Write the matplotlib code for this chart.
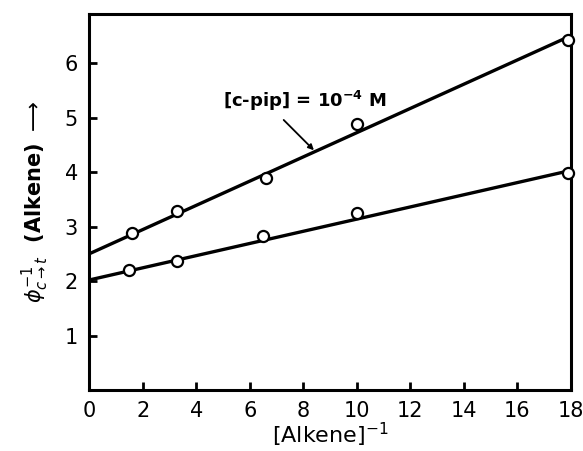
"""
Stern-Volmer type plot: inverse quantum yield vs inverse alkene concentration
"""

from matplotlib import pyplot as plt

# upper series, [c-pip] = 1e-4 M
upper_x = [1.6, 3.3, 6.6, 10.0, 17.9]
upper_y = [2.88, 3.28, 3.90, 4.88, 6.42]
upper_fit_x = [0, 18]
upper_fit_y = [2.50, 6.50]

# lower series
lower_x = [1.5, 3.3, 6.5, 10.0, 17.9]
lower_y = [2.20, 2.37, 2.82, 3.25, 3.98]
lower_fit_x = [0, 18]
lower_fit_y = [2.02, 4.03]

x_ticks = [0, 2, 4, 6, 8, 10, 12, 14, 16, 18]
y_ticks = [1, 2, 3, 4, 5, 6]

fig = plt.figure(figsize=(5.83, 4.51), dpi=100)
axes = fig.add_axes([0.153, 0.135, 0.826, 0.834])

axes.plot(upper_fit_x, upper_fit_y, color='black', lw=2.4, zorder=2)
axes.plot(lower_fit_x, lower_fit_y, color='black', lw=2.4, zorder=2)
axes.plot(upper_x, upper_y, 'o', ms=8, mfc='white', mec='black', mew=1.6,
          zorder=3, clip_on=False)
axes.plot(lower_x, lower_y, 'o', ms=8, mfc='white', mec='black', mew=1.6,
          zorder=3, clip_on=False)

axes.set_xlim(0, 18)
axes.set_ylim(0, 6.9)
axes.set_xticks(x_ticks)
axes.set_yticks(y_ticks)
axes.tick_params(direction='in', length=6, width=2, labelsize=15, pad=8)
for s in axes.spines.values():
    s.set_linewidth(2.2)

axes.set_xlabel(r'$\left[\mathrm{Alkene}\right]^{-1}$', fontsize=16,
                labelpad=0)
axes.set_ylabel(r'$\phi^{-1}_{c\rightarrow t}$  (Alkene) $\longrightarrow$',
                fontsize=15, fontweight='bold', labelpad=10)

axes.annotate(r'[c-pip] = $\mathbf{10^{-4}}$ M',
              xy=(8.4, 4.4), xytext=(5.0, 5.3), fontsize=13,
              fontweight='bold', va='center', ha='left',
              arrowprops=dict(arrowstyle='-|>', color='black', lw=1.3,
                              mutation_scale=8, shrinkA=4, shrinkB=0,
                              relpos=(0.33, 0.0)))

fig.savefig('out.png', dpi=100)
